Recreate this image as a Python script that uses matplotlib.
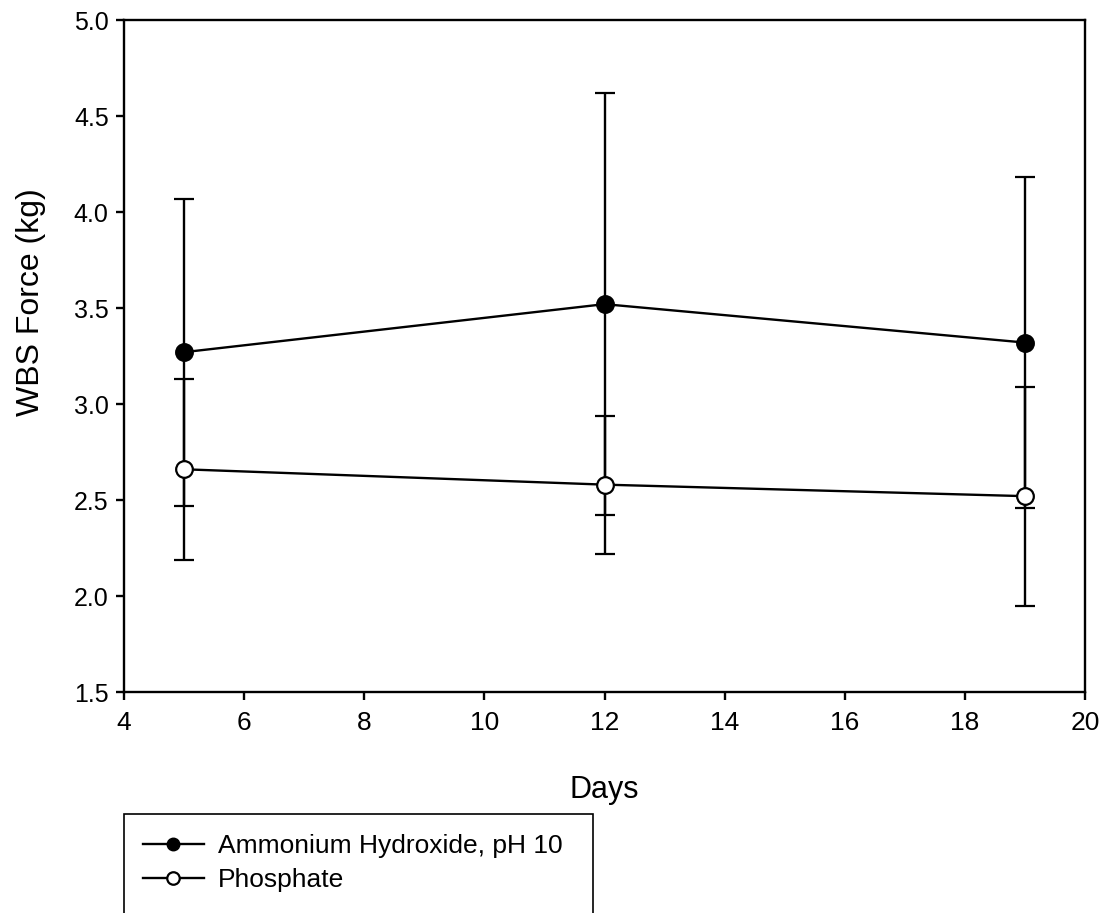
import matplotlib
matplotlib.use("Agg")
import matplotlib.pyplot as plt
from matplotlib.patches import Rectangle
from matplotlib.lines import Line2D

plt.rcParams['font.family'] = ['Liberation Sans', 'DejaVu Sans']

# WBS shear force by storage day for two marinade treatments
days = [5, 12, 19]
ammonium_mean = [3.27, 3.52, 3.32]
ammonium_err = [0.80, 1.10, 0.86]
phosphate_mean = [2.66, 2.58, 2.52]
phosphate_err = [0.47, 0.36, 0.57]

x_ticks = [4, 6, 8, 10, 12, 14, 16, 18, 20]
y_ticks = [1.5, 2.0, 2.5, 3.0, 3.5, 4.0, 4.5, 5.0]

W, H = 1108, 913
fig = plt.figure(figsize=(W / 100, H / 100), dpi=100)
ax = fig.add_axes([124 / W, 1 - 692 / H, (1085 - 124) / W, (692 - 20) / H])

style = dict(color='black', lw=1.7, elinewidth=1.7, capsize=7.2, capthick=1.7,
             marker='o', markersize=12, markeredgewidth=1.6, markeredgecolor='black')
ax.errorbar(days, ammonium_mean, yerr=ammonium_err, markerfacecolor='black',
            zorder=3, **style)
ax.errorbar(days, phosphate_mean, yerr=phosphate_err, markerfacecolor='white',
            zorder=4, **style)

ax.set_xlim(4, 20)
ax.set_ylim(1.5, 5.0)
ax.set_xticks(x_ticks)
ax.set_yticks(y_ticks)
ax.set_xticklabels([str(t) for t in x_ticks], fontsize=19)
ax.set_yticklabels([f"{t:.1f}" for t in y_ticks], fontsize=18)
ax.tick_params(direction='out', length=6, width=1.7, pad=5)
ax.tick_params(axis='x', pad=8)
for sp in ax.spines.values():
    sp.set_linewidth(1.7)

ax.set_xlabel('Days', fontsize=22)
ax.set_ylabel('WBS Force (kg)', fontsize=23)
ax.xaxis.set_label_coords(0.5, -0.124)
ax.yaxis.set_label_coords(-0.081, 0.58)

# legend box runs off the bottom edge of the figure
fig.patches.append(Rectangle((124 / W, 1 - 930 / H), (593 - 124) / W, (930 - 814) / H,
                             transform=fig.transFigure, fill=False, lw=1.2,
                             edgecolor='black'))
handles = [
    Line2D([], [], color='black', lw=1.7, marker='o', markersize=9,
           markerfacecolor='black', markeredgecolor='black'),
    Line2D([], [], color='black', lw=1.7, marker='o', markersize=9,
           markerfacecolor='white', markeredgecolor='black', markeredgewidth=1.6),
]
fig.legend(handles, ['Ammonium Hydroxide, pH 10', 'Phosphate'],
           loc='upper left', bbox_to_anchor=(143 / W, 1 - 834 / H),
           frameon=False, fontsize=19, handlelength=2.3, handletextpad=0.55,
           labelspacing=0.38, borderpad=0, borderaxespad=0)

fig.savefig('out.png', dpi=100)
